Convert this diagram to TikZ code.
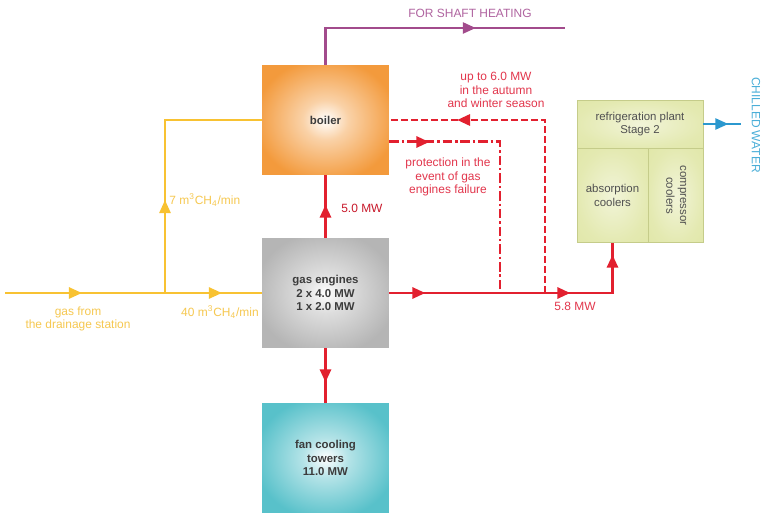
\documentclass[tikz,border=0pt]{standalone}
\usepackage{fontspec}
\setmainfont{Liberation Sans}
\usepackage{tikz}
\usetikzlibrary{arrows.meta,positioning,decorations.markings}
\definecolor{gasy}{HTML}{F8C232}
\definecolor{gast}{HTML}{F6C850}
\definecolor{heat}{HTML}{E2202F}
\definecolor{heatt}{HTML}{E2364C}
\definecolor{heatd}{HTML}{C8182A}
\definecolor{shaft}{HTML}{A24B8C}
\definecolor{shaftt}{HTML}{B064A0}
\definecolor{chill}{HTML}{2B98CF}
\definecolor{chillt}{HTML}{4AAED8}
\definecolor{boil}{HTML}{F39A3C}
\definecolor{engn}{HTML}{B5B5B5}
\definecolor{towr}{HTML}{58C1CA}
\definecolor{plnt}{HTML}{DDE49E}
\definecolor{plntl}{HTML}{C5CC8A}
\definecolor{boxt}{HTML}{3C3C3C}
\definecolor{plntt}{HTML}{505050}
\pgfdeclareradialshading{boilshade}{\pgfpoint{0bp}{0bp}}{color(0bp)=(white); color(9bp)=(white!55!boil); color(28bp)=(boil); color(50bp)=(boil)}
\pgfdeclareradialshading{engshade}{\pgfpoint{0bp}{0bp}}{color(0bp)=(white); color(9bp)=(white!55!engn); color(28bp)=(engn); color(50bp)=(engn)}
\pgfdeclareradialshading{towshade}{\pgfpoint{0bp}{0bp}}{color(0bp)=(white); color(9bp)=(white!55!towr); color(28bp)=(towr); color(50bp)=(towr)}
\pgfdeclareradialshading{plntshade}{\pgfpoint{0bp}{0bp}}{color(0bp)=(white!60!plnt); color(25bp)=(white!20!plnt); color(50bp)=(plnt)}
\tikzset{
  unit/.style={minimum width=2.54cm, minimum height=2.2cm, inner sep=0pt, align=center,
    text=boxt, font=\fontsize{6.5}{7.6}\selectfont\bfseries},
  cell/.style={draw=plntl, line width=0.4pt, inner sep=0pt, align=center, text=plntt,
    shading=plntshade, font=\fontsize{6.5}{7.8}\selectfont},
  mid/.style={postaction={decorate, decoration={markings,
    mark=at position #1 with {\arrow{Triangle[length=2.6mm,width=2.2mm]}}}}},
  gas/.style={draw=gasy, line width=1.4pt},
  hot/.style={draw=heat, line width=1.7pt},
  hotdash/.style={hot, dash pattern=on 4pt off 1.7pt},
  hotdot/.style={hot, dash pattern=on 5.5pt off 1.6pt on 1.4pt off 1.6pt},
  pipe/.style={draw=shaft, line width=1.4pt},
  cold/.style={draw=chill, line width=1.4pt},
  lab/.style={font=\fontsize{6.8}{7.6}\selectfont, align=center, inner sep=0pt},
}
\begin{document}
\begin{tikzpicture}[x=0.02cm, y=-0.02cm]
\useasboundingbox[fill=white] (0,0) rectangle (762,513);

\node[unit, shading=boilshade] (boiler) at (325.5,120) {boiler};
\node[unit, shading=engshade] (engines) at (325.5,293) {gas engines\\2 x 4.0 MW\\1 x 2.0 MW};
\node[unit, shading=towshade] (towers) at (325.5,458) {fan cooling\\towers\\11.0 MW};

\node[cell, minimum width=2.52cm, minimum height=0.96cm] (plant) at (640,124) {refrigeration plant\\Stage 2};
\node[cell, minimum width=1.42cm, minimum height=1.88cm, anchor=north west] (absorb) at (plant.south west) {absorption\\coolers};
\node[cell, minimum width=1.10cm, minimum height=1.88cm, anchor=north west] (compr) at (absorb.north east) {};
\node[lab, text=plntt, font=\fontsize{6.5}{7.8}\selectfont, rotate=-90] (comprlab) at (compr) {compressor\\coolers};

\coordinate (gs) at (5,293);
\coordinate (gj) at (165,293);
\coordinate (j1) at (500,293);
\coordinate (j2) at (545,293);
\coordinate (shaftend) at (565,28);
\coordinate (chillend) at (741,124);

% gas
\draw[gas, mid=1.54cm, mid=4.34cm] (gs) -- (engines.west);
\draw[gas, mid=1.86cm] (gj) |- (boiler.west);

% heat
\draw[hot, mid=0.66cm] (engines.north) -- (boiler.south);
\draw[hot, mid=0.68cm] (engines.south) -- (towers.north);
\draw[hot, mid=0.72cm, mid=3.62cm, mid=5.23cm] (engines.east) -| (absorb.south);
\draw[hotdash, mid=5.22cm] (j2) |- (boiler.east);
\draw[hotdot, mid=0.8cm] ([yshift=-0.44cm]boiler.east) -| (j1);
\draw[pipe, mid=3.74cm] (boiler.north) |- (shaftend);
\draw[cold, mid=0.5cm] (plant.east) -- (chillend);

\node[lab, text=shaftt] (shaftlab) at (470,13) {FOR SHAFT HEATING};
\node[lab, text=chillt, rotate=-90] (chilllab) at (756,125) {CHILLED WATER};
\node[lab, text=heatt] (seasonlab) at (496,90) {up to 6.0 MW\\in the autumn\\and winter season};
\node[lab, text=heatt] (protlab) at (448,177) {protection in the\\event of gas\\engines failure};
\node[lab, text=heatd, anchor=west] (boilmw) at (341,208) {5.0 MW};
\node[lab, text=heatt] (plantmw) at (575,306) {5.8 MW};
\node[lab, text=gast, anchor=west] (smallgas) at (169,200) {7 m\textsuperscript{3}CH\textsubscript{4}/min};
\node[lab, text=gast, anchor=east] (biggas) at (259,312) {40 m\textsuperscript{3}CH\textsubscript{4}/min};
\node[lab, text=gast] (srclab) at (78,319) {gas from\\the drainage station};
\end{tikzpicture}
\end{document}
